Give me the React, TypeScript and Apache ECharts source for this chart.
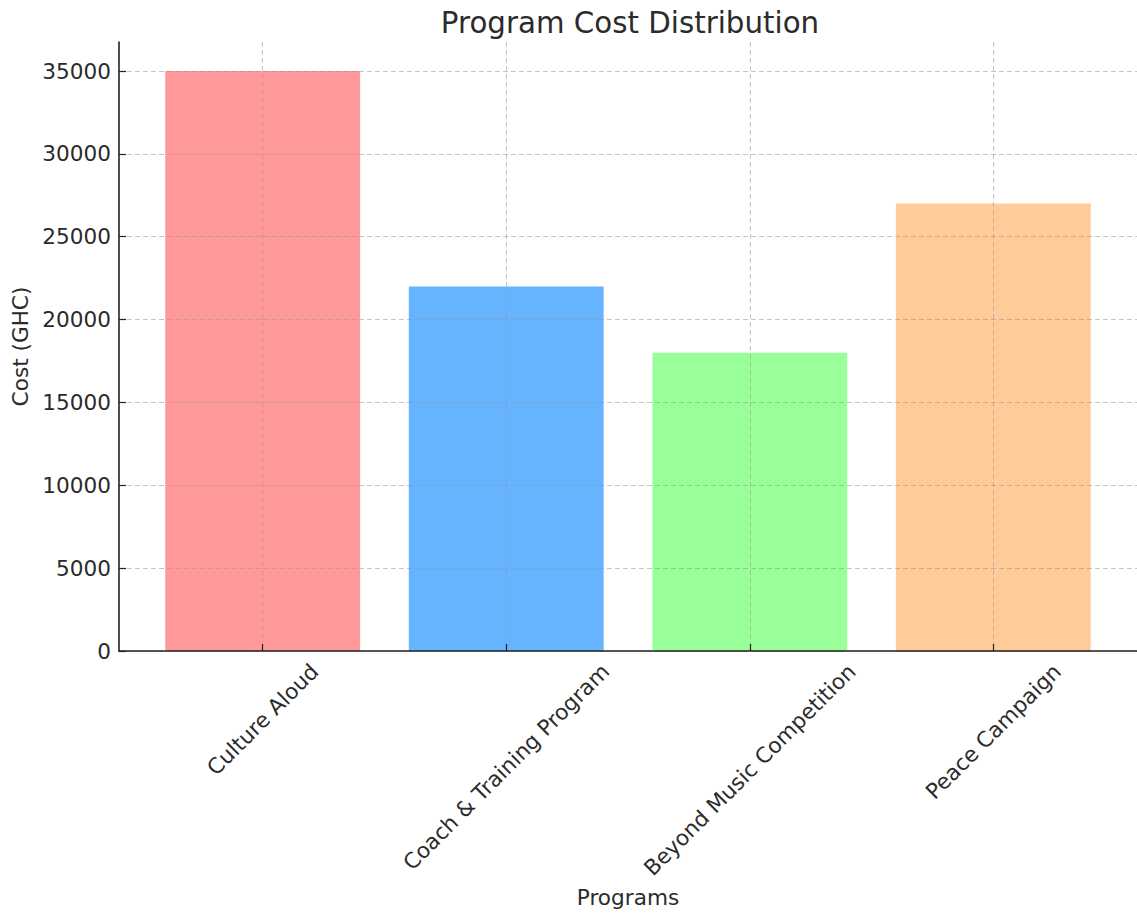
import React, { useEffect, useRef } from "react";
import * as echarts from "echarts";

const categories = [
  "Culture Aloud",
  "Coach & Training Program",
  "Beyond Music Competition",
  "Peace Campaign",
];
const costs = [35000, 22000, 18000, 27000];
const yTicks = [0, 5000, 10000, 15000, 20000, 25000, 30000, 35000];
const barColors = ["#ff9999", "#66b3ff", "#99ff99", "#ffcc99"];

const FONT = "DejaVu Sans";
const TEXT = "#2b2b2b";
const LABEL_SIZE = 21.6;

function measure(text: string, size: number): number {
  const ctx = document.createElement("canvas").getContext("2d");
  if (!ctx) return text.length * size * 0.6;
  ctx.font = `${size}px "${FONT}"`;
  return ctx.measureText(text).width;
}

export default function App() {
  const ref = useRef<HTMLDivElement>(null);
  useEffect(() => {
    if (!ref.current) return;
    const chart = echarts.init(ref.current, null, { renderer: "svg" });
    const rich: Record<string, any> = {};
    categories.forEach((c, i) => {
      const w = measure(c, LABEL_SIZE);
      const p = (w + LABEL_SIZE) / 2;
      rich["l" + i] = {
        fontFamily: FONT,
        fontSize: LABEL_SIZE,
        color: TEXT,
        padding: [p, p, 0, 0],
      };
    });
    const idx = categories.map((_, i) => i);
    const grid = {
      lineStyle: { color: "rgba(150,150,150,0.55)", type: [5, 3], width: 1 },
    };
    chart.setOption({
      animation: false,
      backgroundColor: "#ffffff",
      title: {
        text: "Program Cost Distribution",
        left: 625,
        top: 3,
        textAlign: "center",
        textStyle: { fontFamily: FONT, fontSize: 29.3, fontWeight: "normal", color: TEXT },
      },
      grid: { left: 119, top: 42, width: 1021, height: 609 },
      xAxis: {
        type: "value",
        min: -0.59,
        max: 3.59,
        z: 3,
        name: "Programs",
        nameLocation: "middle",
        nameGap: 232,
        nameTextStyle: { fontFamily: FONT, fontSize: LABEL_SIZE, color: TEXT },
        axisLine: { show: true, onZero: false, lineStyle: { color: "#222", width: 1.6 } },
        axisTick: { show: true, inside: true, length: 7, customValues: idx, lineStyle: { color: "#222", width: 1.2 } },
        axisLabel: {
          customValues: idx,
          rotate: 45,
          align: "center",
          verticalAlign: "middle",
          margin: 9,
          fontFamily: FONT,
          fontSize: LABEL_SIZE,
          color: TEXT,
          hideOverlap: false,
          formatter: (v: number) => {
            const i = Math.round(v);
            return `{l${i}|${categories[i]}}`;
          },
          rich,
        },
        splitLine: { show: true, ...grid },
      },
      yAxis: {
        type: "value",
        min: 0,
        max: 36750,
        z: 3,
        name: "Cost (GHC)",
        nameLocation: "middle",
        nameGap: 84,
        nameTextStyle: { fontFamily: FONT, fontSize: LABEL_SIZE, color: TEXT },
        axisLine: { show: true, onZero: false, lineStyle: { color: "#222", width: 1.6 } },
        axisTick: { show: true, inside: true, length: 7, customValues: yTicks, lineStyle: { color: "#222", width: 1.2 } },
        axisLabel: {
          customValues: yTicks,
          margin: 8,
          fontFamily: FONT,
          fontSize: LABEL_SIZE,
          color: TEXT,
          formatter: (v: number) => String(v),
        },
        splitLine: { show: true, ...grid },
      },
      series: [
        {
          type: "bar",
          z: 2,
          barWidth: "80%",
          data: costs.map((v, i) => ({ value: [i, v], itemStyle: { color: barColors[i] } })),
        },
      ],
    });
    return () => chart.dispose();
  }, []);
  return (
    <div
      ref={ref}
      style={{ position: "fixed", left: 0, top: 0, width: 1137, height: 915 }}
    />
  );
}
